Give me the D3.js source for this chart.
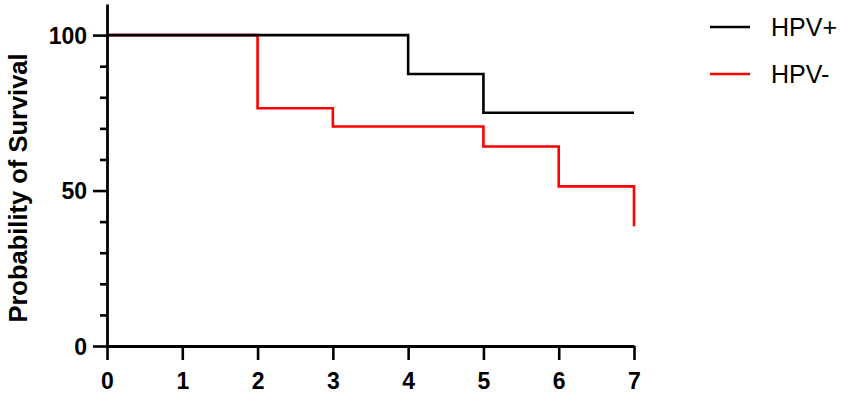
<!DOCTYPE html>
<html>
<head>
<meta charset="utf-8">
<script src="https://cdn.jsdelivr.net/npm/d3@7"></script>
<style>
  body { margin: 0; background: #fff; }
  svg { display: block; }
</style>
</head>
<body>
<svg id="chart" width="842" height="393"></svg>
<script>
// survival curves
const hpvPosTime = [0, 4, 5, 7];
const hpvPosSurv = [100, 87.5, 75, 75];
const hpvNegTime = [0, 2, 3, 5, 6, 7];
const hpvNegSurv = [100, 76.47, 70.59, 64.17, 51.34, 38.5];

const xTicks = [0, 1, 2, 3, 4, 5, 6, 7];
const yMajor = [0, 50, 100];
const yMinor = [10, 20, 30, 40, 60, 70, 80, 90];

const seriesNames = ['HPV+', 'HPV-'];
const seriesColors = ['#000000', '#ff0000'];

const svg = d3.select('#chart');

const x = d3.scaleLinear().domain([0, 7]).range([107, 634]);
const y = d3.scaleLinear().domain([0, 110]).range([346, 4]);

const line = d3.line()
  .x(d => x(d[0]))
  .y(d => y(d[1]))
  .curve(d3.curveStepAfter);

const negPts = hpvNegTime.map((t, i) => [t, hpvNegSurv[i]]);
const posPts = hpvPosTime.map((t, i) => [t, hpvPosSurv[i]]);

// red first so the black one sits on top where they overlap
svg.append('path')
  .datum(negPts)
  .attr('d', line)
  .attr('fill', 'none')
  .attr('stroke', seriesColors[1])
  .attr('stroke-width', 2.6);

svg.append('path')
  .datum(posPts)
  .attr('d', line)
  .attr('fill', 'none')
  .attr('stroke', seriesColors[0])
  .attr('stroke-width', 2.6);

// x axis
const xAxis = svg.append('g')
  .attr('transform', `translate(0,${y(0)})`)
  .call(d3.axisBottom(x).tickValues(xTicks).tickFormat(d3.format('d'))
    .tickSize(14).tickPadding(13).tickSizeOuter(0));

// y axis with major and minor ticks
const yAxis = svg.append('g')
  .attr('transform', `translate(${x(0)},0)`)
  .call(d3.axisLeft(y).tickValues(yMajor).tickSize(14).tickPadding(6).tickSizeOuter(0));

svg.append('g')
  .attr('transform', `translate(${x(0)},0)`)
  .call(d3.axisLeft(y).tickValues(yMinor).tickSize(7).tickFormat('').tickSizeOuter(0))
  .call(g => g.select('.domain').remove())
  .selectAll('line')
  .attr('stroke', '#000')
  .attr('stroke-width', 2.6);

[xAxis, yAxis].forEach(g => {
  g.select('.domain').attr('stroke', '#000').attr('stroke-width', 2.8);
  g.selectAll('.tick line').attr('stroke', '#000').attr('stroke-width', 2.6);
  g.selectAll('.tick text')
    .attr('fill', '#000')
    .style('font-family', 'Liberation Sans, Arial, sans-serif')
    .style('font-weight', 'bold')
    .style('font-size', '23px');
});
yAxis.selectAll('.tick text').attr('dy', '0.35em');

// y title
svg.append('text')
  .attr('transform', 'translate(27,188) rotate(-90)')
  .attr('text-anchor', 'middle')
  .style('font-family', 'Liberation Sans, Arial, sans-serif')
  .style('font-weight', 'bold')
  .style('font-size', '25.5px')
  .text('Probability of Survival');

// legend
const legend = svg.append('g').attr('transform', 'translate(710,27)');
seriesNames.forEach((name, i) => {
  const row = legend.append('g').attr('transform', `translate(0,${i * 47})`);
  row.append('line')
    .attr('x1', 0).attr('x2', 40)
    .attr('stroke', seriesColors[i])
    .attr('stroke-width', 2.6);
  row.append('text')
    .attr('x', 61)
    .attr('y', 9)
    .style('font-family', 'Liberation Sans, Arial, sans-serif')
    .style('font-size', '25px')
    .text(name);
});
</script>
</body>
</html>
